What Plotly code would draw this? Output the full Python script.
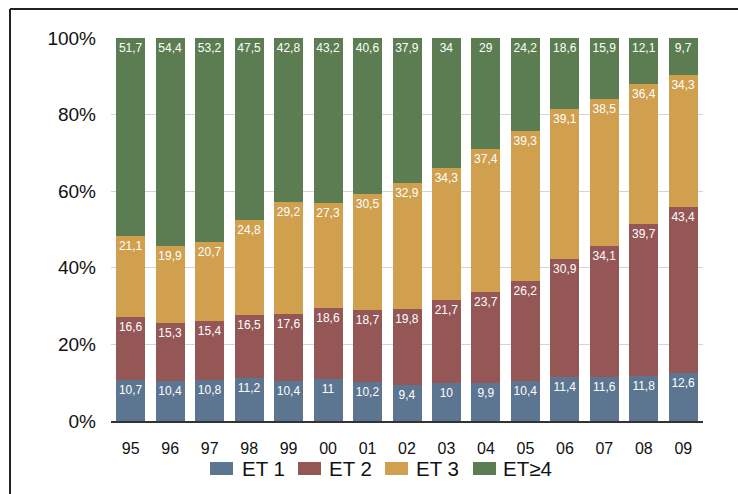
import plotly.graph_objects as go

years = ["95", "96", "97", "98", "99", "00", "01", "02", "03", "04", "05", "06", "07", "08", "09"]

et1 = [10.7, 10.4, 10.8, 11.2, 10.4, 11, 10.2, 9.4, 10, 9.9, 10.4, 11.4, 11.6, 11.8, 12.6]
et2 = [16.6, 15.3, 15.4, 16.5, 17.6, 18.6, 18.7, 19.8, 21.7, 23.7, 26.2, 30.9, 34.1, 39.7, 43.4]
et3 = [21.1, 19.9, 20.7, 24.8, 29.2, 27.3, 30.5, 32.9, 34.3, 37.4, 39.3, 39.1, 38.5, 36.4, 34.3]
et4 = [51.7, 54.4, 53.2, 47.5, 42.8, 43.2, 40.6, 37.9, 34, 29, 24.2, 18.6, 15.9, 12.1, 9.7]

series = [
    ("ET 1", et1, "#5C7590"),
    ("ET 2", et2, "#955656"),
    ("ET 3", et3, "#D0A04F"),
    ("ET≥4", et4, "#5B7D51"),
]

FONT = "Liberation Sans, Arial, sans-serif"
W, H = 738, 494
ML, MR, MT, MB = 111, 35, 38, 73
pw = W - ML - MR
ph = H - MT - MB


def px_x(p):
    return (p - ML) / pw


def px_y(p):
    return 1 - (p - MT) / ph


def fmt(v):
    return ("%g" % v).replace(".", ",")


fig = go.Figure()
for name, vals, color in series:
    fig.add_trace(go.Bar(
        x=years, y=vals, name=name,
        marker=dict(color=color, line=dict(width=0)),
        text=[fmt(v) for v in vals],
        textposition="inside",
        insidetextanchor="end",
        textangle=0,
        constraintext="none",
        textfont=dict(color="white", size=12, family=FONT),
        showlegend=False,
    ))

# Legend row drawn as swatches + labels
legend_x = [(210, 240), (298, 327), (385, 414), (473, 501)]
shapes = []
annotations = []
for (sx, tx), (name, _, color) in zip(legend_x, series):
    shapes.append(dict(type="rect", xref="paper", yref="paper",
                       x0=px_x(sx), x1=px_x(sx + 23), y0=px_y(475), y1=px_y(462),
                       fillcolor=color, line=dict(width=0)))
    annotations.append(dict(xref="paper", yref="paper", x=px_x(tx), y=px_y(468.5),
                            xanchor="left", yanchor="middle", showarrow=False,
                            text=name, font=dict(size=20.5, family=FONT, color="#111")))

# Outer frame (top and left edges)
shapes += [
    dict(type="line", xref="paper", yref="paper",
         x0=px_x(10), x1=px_x(740), y0=px_y(9), y1=px_y(9),
         line=dict(color="#222", width=2)),
    dict(type="line", xref="paper", yref="paper",
         x0=px_x(10), x1=px_x(10), y0=px_y(9), y1=px_y(496),
         line=dict(color="#222", width=2)),
]

fig.update_layout(
    width=W, height=H,
    margin=dict(l=ML, r=MR, t=MT, b=MB),
    barmode="stack",
    barnorm="percent",
    bargap=0.265,
    plot_bgcolor="white",
    paper_bgcolor="white",
    font=dict(family=FONT, color="#111"),
    showlegend=False,
    xaxis=dict(
        showgrid=False, showline=True, linecolor="#333", linewidth=1.5,
        tickfont=dict(size=16), ticks="", ticklabelstandoff=12,
    ),
    yaxis=dict(
        range=[0, 100], tickvals=[0, 20, 40, 60, 80, 100],
        ticktext=["0%", "20%", "40%", "60%", "80%", "100%"],
        showgrid=True, gridcolor="#D4D4D4", gridwidth=1.2,
        zeroline=False, showline=False, ticks="",
        tickfont=dict(size=19), ticklabelstandoff=14,
    ),
    shapes=shapes,
    annotations=annotations,
)

fig.write_html("out.html")
